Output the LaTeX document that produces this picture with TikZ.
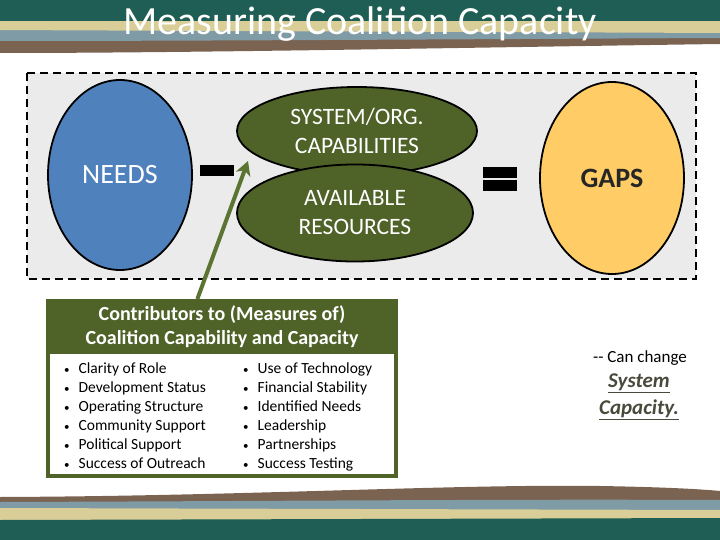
\documentclass[tikz,border=0pt]{standalone}
\usepackage{fontspec}
\setmainfont{Carlito}
\usetikzlibrary{arrows.meta,positioning,shapes.geometric,calc}
\definecolor{bandgreen}{HTML}{1E5E55}
\definecolor{bandtan}{HTML}{D9CD98}
\definecolor{bandgrey}{HTML}{7F9BA6}
\definecolor{bandbrown}{HTML}{7B6352}
\definecolor{needblue}{HTML}{4F81BD}
\definecolor{capgreen}{HTML}{4F6228}
\definecolor{gapyellow}{HTML}{FFCC66}
\definecolor{panelgrey}{HTML}{EBEBEB}
\definecolor{arrowgreen}{HTML}{5C7431}
\definecolor{notegrey}{HTML}{4A4A3C}
\newcommand{\dotmark}{{\fontsize{11}{11}\selectfont\textbullet}}

\begin{document}
\begin{tikzpicture}[x=1pt, y=-1pt,
  blob/.style={draw=black, line width=1.8pt, ellipse, inner sep=0pt, align=center, text=white},
  sign/.style={fill=black, inner sep=0pt, minimum width=34pt, minimum height=11pt},
  arr/.style={-{Stealth[length=14pt, width=15pt, inset=4pt]}, line width=4pt, arrowgreen},
  list/.style={align=left, anchor=north west, inner sep=0pt, font=\fontsize{15.5}{19}\selectfont},
  note/.style={align=center, inner sep=0pt}
]
\useasboundingbox (0,0) rectangle (720,540);

% Header bands
\fill[bandbrown] (0,38) -- (720,36) -- (720,44) .. controls (500,47) and (200,53) .. (0,53) -- cycle;
\fill[bandgrey] (0,28) -- (720,30) -- (720,38) .. controls (500,39) and (200,41) .. (0,41) -- cycle;
\fill[bandtan] (0,20) -- (720,21) -- (720,33) .. controls (500,32) and (200,31) .. (0,30) -- cycle;
\fill[bandgreen] (0,0) rectangle (720,21.5);
\node[text=white, font=\fontsize{40}{44}\selectfont] (title) at (360,24) {Measuring Coalition Capacity};

% Footer bands
\fill[bandbrown] (0,497) .. controls (250,496) and (450,484) .. (600,486) .. controls (660,487) and (700,489) .. (720,491) -- (720,540) -- (0,540) -- cycle;
\fill[bandgrey] (0,502) .. controls (300,501) and (500,499) .. (720,500) -- (720,540) -- (0,540) -- cycle;
\fill[bandtan] (0,508) -- (720,510) -- (720,540) -- (0,540) -- cycle;
\fill[bandgreen] (0,520) -- (720,518) -- (720,540) -- (0,540) -- cycle;

% Equation panel
\draw[fill=panelgrey, line width=2.5pt, dash pattern=on 8pt off 5pt] (27,73) rectangle (696,279);

\node[blob, fill=needblue, minimum width=144pt, minimum height=190pt, font=\fontsize{28}{30}\selectfont] (needs) at (120,175) {NEEDS};
\node[sign] (minus) at (217,171) {};
\node[blob, fill=capgreen, minimum width=240pt, minimum height=88pt, font=\fontsize{23.5}{29}\selectfont] (cap) at (357,131) {SYSTEM/ORG.\\CAPABILITIES};
\node[blob, fill=capgreen, minimum width=236pt, minimum height=97pt, font=\fontsize{23.5}{29}\selectfont] (res) at (355,213) {AVAILABLE\\RESOURCES};
\node[sign] (eqtop) at (500,172.5) {};
\node[sign, below=1.5pt of eqtop] (eqbot) {};
\node[blob, fill=gapyellow, text=black!85, minimum width=144pt, minimum height=192pt, font=\fontsize{28}{30}\selectfont\bfseries] (gaps) at (612,178) {GAPS};

% Contributors box
\node[draw=capgreen, line width=4pt, fill=white, minimum width=348pt, minimum height=175pt, inner sep=0pt] (contrib) at (222,388.5) {};
\node[fill=capgreen, text=white, anchor=north, minimum width=348pt, minimum height=55pt, inner sep=0pt, align=center, font=\fontsize{20}{24}\selectfont\bfseries] (contribhead) at (contrib.north) {Contributors to (Measures of)\\Coalition Capability and Capacity};
\node[list] (leftlist) at (64,360) {\begin{tabular}{@{}l@{\hspace{9pt}}l@{}}
\dotmark & Clarity of Role\\
\dotmark & Development Status\\
\dotmark & Operating Structure\\
\dotmark & Community Support\\
\dotmark & Political Support\\
\dotmark & Success of Outreach
\end{tabular}};
\node[list] (rightlist) at (243,360) {\begin{tabular}{@{}l@{\hspace{9pt}}l@{}}
\dotmark & Use of Technology\\
\dotmark & Financial Stability\\
\dotmark & Identified Needs\\
\dotmark & Leadership\\
\dotmark & Partnerships\\
\dotmark & Success Testing
\end{tabular}};

% Arrow into capabilities
\coordinate (captip) at (248,161);
\draw[arr] ($(contrib.north west)!0.43!(contrib.north east)$) -- (captip);

% Side note
\node[note, font=\fontsize{17}{18}\selectfont] (canchange) at (640,358) {-{}- Can change};
\node[note, text=notegrey, font=\fontsize{21}{24}\selectfont\bfseries\itshape] (sysword) at (639,383) {\underline{System}};
\node[note, text=notegrey, font=\fontsize{21}{24}\selectfont\bfseries\itshape, below=7pt of sysword] (capword) {\underline{Capacity.}};

\end{tikzpicture}
\end{document}
